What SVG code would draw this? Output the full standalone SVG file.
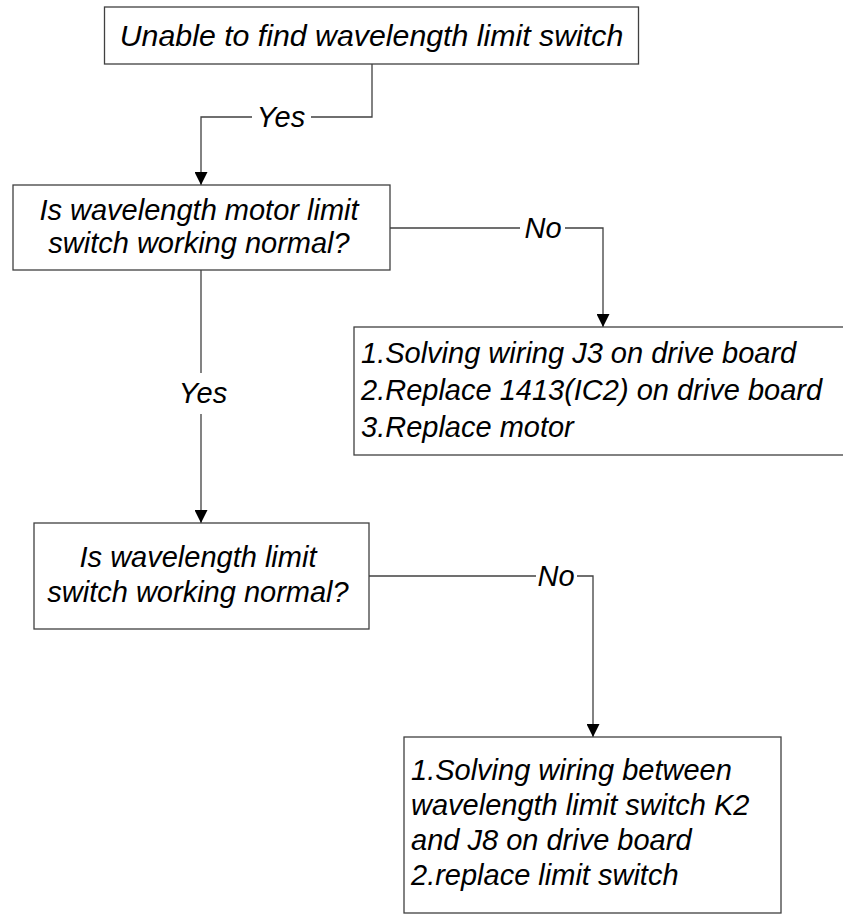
<svg xmlns="http://www.w3.org/2000/svg" width="843" height="914" viewBox="0 0 843 914">
<style>
.box{fill:#ffffff;stroke:#404040;stroke-width:1.3}
.t{font-family:"Liberation Sans",Arial,sans-serif;font-style:italic;font-size:29px;fill:#000}
.c{text-anchor:middle}
.ln{fill:none;stroke:#404040;stroke-width:1.3}
</style>
<defs>
<marker id="ah" markerUnits="userSpaceOnUse" markerWidth="13" markerHeight="13" refX="13" refY="6.5" orient="auto">
<path d="M0,0 L13,6.5 L0,13 z" fill="#000"/>
</marker>
</defs>
<rect width="843" height="914" fill="#ffffff"/>
<g id="connectors">
<path class="ln" d="M372,64 V117 H311"/>
<path class="ln" d="M252,117 H201 V185" marker-end="url(#ah)"/>
<text class="t c" x="281" y="127">Yes</text>
<path class="ln" d="M390,228 H520"/>
<path class="ln" d="M565,228 H603 V327" marker-end="url(#ah)"/>
<text class="t c" x="543" y="238">No</text>
<path class="ln" d="M201,270 V373"/>
<path class="ln" d="M201,414 V523" marker-end="url(#ah)"/>
<text class="t c" x="203" y="403">Yes</text>
<path class="ln" d="M369,576 H536"/>
<path class="ln" d="M577,576 H593 V737" marker-end="url(#ah)"/>
<text class="t c" x="556" y="586">No</text>
</g>
<g id="n1">
<rect class="box" x="104.5" y="7" width="534" height="57"/>
<text class="t c" x="371.5" y="46" style="font-size:30.3px">Unable to find wavelength limit switch</text>
</g>
<g id="n2">
<rect class="box" x="13" y="185" width="377" height="85"/>
<text class="t c" x="199" y="220">Is wavelength motor limit</text>
<text class="t c" x="199" y="253">switch working normal?</text>
</g>
<g id="n3">
<rect class="box" x="354" y="327" width="495" height="128"/>
<text class="t" x="361" y="363">1.Solving wiring J3 on drive board</text>
<text class="t" x="361" y="400">2.Replace 1413(IC2) on drive board</text>
<text class="t" x="361" y="437">3.Replace motor</text>
</g>
<g id="n4">
<rect class="box" x="34" y="523" width="335" height="106"/>
<text class="t c" x="198" y="567">Is wavelength limit</text>
<text class="t c" x="198" y="602">switch working normal?</text>
</g>
<g id="n5">
<rect class="box" x="404" y="737" width="377" height="176"/>
<text class="t" x="411" y="780">1.Solving wiring between</text>
<text class="t" x="411" y="815">wavelength limit switch K2</text>
<text class="t" x="411" y="850">and J8 on drive board</text>
<text class="t" x="411" y="885">2.replace limit switch</text>
</g>
</svg>
